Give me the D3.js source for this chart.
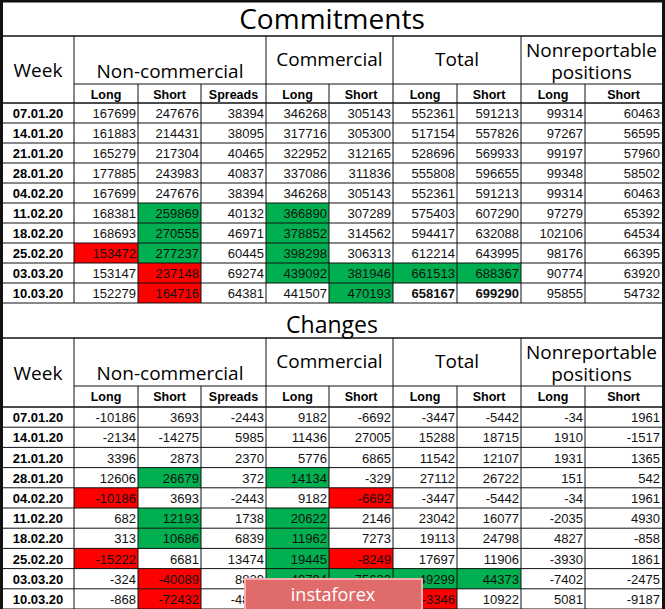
<!DOCTYPE html>
<html>
<head>
<meta charset="utf-8">
<script src="https://d3js.org/d3.v7.min.js"></script>
<style>body{margin:0;background:#fff}</style>
</head>
<body>
<svg id="tbl" width="665" height="609"></svg>
<script>
var weeks = ["07.01.20","14.01.20","21.01.20","28.01.20","04.02.20","11.02.20","18.02.20","25.02.20","03.03.20","10.03.20"];
var groups = ["Non-commercial","Commercial","Total","Nonreportable positions"];
var subCols = ["Long","Short","Spreads","Long","Short","Long","Short","Long","Short"];

// commitments, one array per column
var ncLong    = [167699,161883,165279,177885,167699,168381,168693,153472,153147,152279];
var ncShort   = [247676,214431,217304,243983,247676,259869,270555,277237,237148,164716];
var ncSpreads = [38394,38095,40465,40837,38394,40132,46971,60445,69274,64381];
var cLong     = [346268,317716,322952,337086,346268,366890,378852,398298,439092,441507];
var cShort    = [305143,305300,312165,311836,305143,307289,314562,306313,381946,470193];
var tLong     = [552361,517154,528696,555808,552361,575403,594417,612214,661513,658167];
var tShort    = [591213,557826,569933,596655,591213,607290,632088,643995,688367,699290];
var nrLong    = [99314,97267,99197,99348,99314,97279,102106,98176,90774,95855];
var nrShort   = [60463,56595,57960,58502,60463,65392,64534,66395,63920,54732];

// changes
var dNcLong    = [-10186,-2134,3396,12606,-10186,682,313,-15222,-324,-868];
var dNcShort   = [3693,-14275,2873,26679,3693,12193,10686,6681,-40089,-72432];
var dNcSpreads = [-2443,5985,2370,372,-2443,1738,6839,13474,8829,-4893];
var dCLong     = [9182,11436,5776,14134,9182,20622,11962,19445,40794,2415];
var dCShort    = [-6692,27005,6865,-329,-6692,2146,7273,-8249,75633,88247];
var dTLong     = [-3447,15288,11542,27112,-3447,23042,19113,17697,49299,-3346];
var dTShort    = [-5442,18715,12107,26722,-5442,16077,24798,11906,44373,10922];
var dNrLong    = [-34,1910,1931,151,-34,-2035,4827,-3930,-7402,5081];
var dNrShort   = [1961,-1517,1365,542,1961,4930,-858,1861,-2475,-9187];

// highlighted cells: [row, column, colour key]
var hiCommit = [[5,1,"g"],[5,3,"g"],[6,1,"g"],[6,3,"g"],[7,0,"r"],[7,1,"g"],[7,3,"g"],
  [8,1,"r"],[8,3,"g"],[8,4,"g"],[8,5,"g"],[8,6,"g"],[9,1,"r"],[9,4,"g"]];
var hiChange = [[3,1,"g"],[3,3,"g"],[4,0,"r"],[4,4,"r"],[5,1,"g"],[5,3,"g"],[6,1,"g"],[6,3,"g"],
  [7,0,"r"],[7,3,"g"],[7,4,"r"],[8,1,"r"],[8,3,"g"],[8,4,"g"],[8,5,"g"],[8,6,"g"],[9,1,"r"],[9,5,"r"]];

var colours = {g:"#00b050", r:"#ff0000"};
var edges = [3,74,138,201,266,329,393,457,521,585,662];
var groupSpan = [[1,4],[4,6],[6,8],[8,10]];
var svg = d3.select("#tbl");
var head = "'Open Sans', sans-serif", body = "'Liberation Sans', Arial, sans-serif";

function drawBlock(top, title, cols, hi, boldLast, dims) {
  var g = svg.append("g");
  var y = d3.scaleBand().domain(weeks).range([dims.rows0, dims.rows1]);
  // cell fills
  g.selectAll("rect.hi").data(hi).enter().append("rect")
    .attr("x", d => edges[d[1]+1]).attr("width", d => edges[d[1]+2]-edges[d[1]+1])
    .attr("y", d => y(weeks[d[0]])).attr("height", y.bandwidth())
    .attr("fill", d => colours[d[2]]);
  g.append("text").attr("x", 332).attr("y", dims.titleY).attr("text-anchor","middle")
    .attr("font-family", head).attr("font-size", dims.titleSize).text(title);
  g.append("text").attr("x", 38).attr("y", (dims.grp0+dims.sub1)/2+7).attr("text-anchor","middle")
    .attr("font-family", head).attr("font-size", 19).text("Week");
  groupSpan.forEach(function(s,i){
    var cx = (edges[s[0]]+edges[s[1]])/2;
    var t = g.append("text").attr("text-anchor","middle").attr("font-family", head).attr("font-size", 19);
    if (i==3) {
      t.append("tspan").attr("x",cx).attr("y",dims.grp0+21).text("Nonreportable");
      t.append("tspan").attr("x",cx).attr("y",dims.grp0+43).text("positions");
    } else t.attr("x",cx).attr("y", i==0 ? dims.grp1-6 : dims.grp0+30).text(groups[i]);
  });
  subCols.forEach(function(c,i){
    g.append("text").attr("x",(edges[i+1]+edges[i+2])/2).attr("y",dims.grp1+15)
      .attr("text-anchor","middle").attr("font-family", body).attr("font-weight","bold")
      .attr("font-size",12.5).text(c);
  });
  g.selectAll("text.wk").data(weeks).enter().append("text")
    .attr("x",38).attr("y", d => y(d)+y.bandwidth()/2+5).attr("text-anchor","middle")
    .attr("font-family", body).attr("font-weight","bold").attr("font-size",13).text(d => d);
  cols.forEach(function(arr,ci){
    g.selectAll(null).data(arr).enter().append("text")
      .attr("x", edges[ci+2]-2).attr("y", (d,ri) => y(weeks[ri])+y.bandwidth()/2+5)
      .attr("text-anchor","end").attr("font-family", body).attr("font-size",13)
      .attr("font-weight", (d,ri) => boldLast && ri==9 && (ci==5||ci==6) ? "bold" : null)
      .attr("fill","#111").text(d => d);
  });
  // grid
  var ln = (x1,y1,x2,y2,w) => g.append("line").attr("x1",x1).attr("y1",y1).attr("x2",x2).attr("y2",y2)
    .attr("stroke","#111").attr("stroke-width",w||1);
  ln(0,dims.grp0,665,dims.grp0,1.5);
  ln(edges[1],dims.grp1,edges[10],dims.grp1);
  ln(0,dims.sub1,665,dims.sub1,1.5);
  y.domain().forEach(w => ln(0,y(w)+y.bandwidth(),665,y(w)+y.bandwidth()));
  edges.slice(1,10).forEach(function(x,i){
    var isGroup = [1,4,6,8].indexOf(i+1) >= 0;
    ln(x, isGroup ? dims.grp0 : dims.grp1, x, dims.rows1);
  });
  ln(1.5,top,1.5,dims.rows1,3); ln(663.5,top,663.5,dims.rows1,3);
}

svg.append("line").attr("x1",0).attr("y1",1).attr("x2",665).attr("y2",1).attr("stroke","#111").attr("stroke-width",3);
drawBlock(0,"Commitments",[ncLong,ncShort,ncSpreads,cLong,cShort,tLong,tShort,nrLong,nrShort],hiCommit,true,
  {titleY:29,titleSize:28,grp0:36,grp1:84,sub1:103,rows0:103,rows1:303});
drawBlock(303,"Changes",[dNcLong,dNcShort,dNcSpreads,dCLong,dCShort,dTLong,dTShort,dNrLong,dNrShort],hiChange,false,
  {titleY:333,titleSize:23,grp0:338,grp1:386,sub1:407,rows0:407,rows1:609});

// watermark
svg.append("rect").attr("x",245).attr("y",579).attr("width",177).attr("height",32)
  .attr("fill","#e06b6b").attr("stroke","#f3b0b0").attr("stroke-width",2);
svg.append("text").attr("x",333).attr("y",601).attr("text-anchor","middle").attr("fill","#fff")
  .attr("font-family",head).attr("font-size",18).text("instaforex");
</script>
</body>
</html>
